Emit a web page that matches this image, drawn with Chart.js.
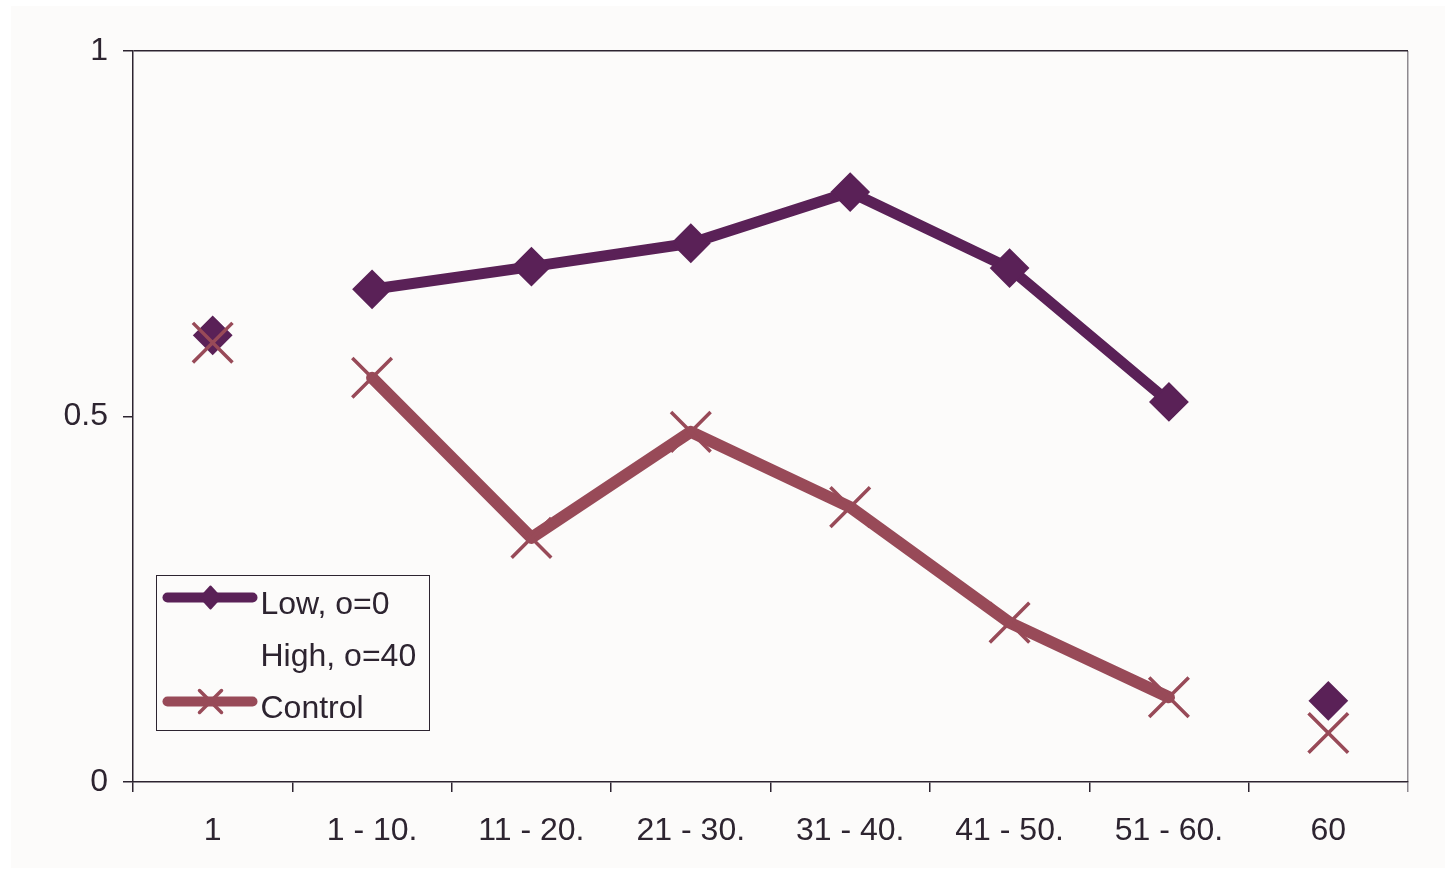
<!DOCTYPE html>
<html><head><meta charset="utf-8">
<script src="https://cdn.jsdelivr.net/npm/chart.js@4/dist/chart.umd.min.js"></script>
<style>html,body{margin:0;padding:0;background:#fff;} #wrap{width:1445px;height:869px;position:relative;}</style>
</head><body><div id="wrap"><canvas id="c" width="1445" height="869"></canvas></div>
<script>
// ---- data ----
const categories = ['1', '1 - 10.', '11 - 20.', '21 - 30.', '31 - 40.', '41 - 50.', '51 - 60.', '60'];
const lowValues = [0.611, 0.674, 0.705, 0.737, 0.807, 0.703, 0.520, 0.111];
const highValues = [null, null, null, null, null, null, null, null];
const controlValues = [0.601, 0.553, 0.334, 0.479, 0.376, 0.218, 0.116, 0.067];
const yTickValues = [0, 0.5, 1];
const yTickLabels = ['0', '0.5', '1'];
const seriesNames = ['Low, o=0', 'High, o=40', 'Control'];

// ---- styles ----
const LOW = '#5a2157', CTRL = '#984a58', TXT = '#2d2430', DARK = '#2d2430', GRAY = '#8e8a90', BG = '#fcfbfa';
const FONT = '"Liberation Sans", Arial, sans-serif';
const FS = 32;
const lastIdx = categories.length - 1;
const inner = (arr) => arr.map((v, i) => (i > 0 && i < lastIdx) ? v : null);
const ends = (arr) => arr.map((v, i) => (i === 0 || i === lastIdx) ? v : null);

const bgPlugin = {
  id: 'bg',
  beforeDraw(chart) {
    const ctx = chart.ctx;
    ctx.save();
    ctx.fillStyle = '#ffffff';
    ctx.fillRect(0, 0, chart.width, chart.height);
    ctx.fillStyle = BG;
    ctx.fillRect(11, 6, chart.width - 11, 862);
    ctx.restore();
  }
};

const legendPlugin = {
  id: 'customLegend',
  afterDatasetsDraw(chart) {
    const ctx = chart.ctx;
    const a = chart.chartArea;
    const x0 = a.left + 23.5, y0 = a.top + 524.5, w = 273, h = 155;
    ctx.save();
    ctx.fillStyle = BG;
    ctx.fillRect(x0, y0, w, h);
    ctx.strokeStyle = DARK;
    ctx.lineWidth = 1;
    ctx.strokeRect(x0, y0, w, h);
    const rows = [y0 + 22, y0 + 74, y0 + 126];
    const lx1 = x0 + 11, lx2 = x0 + 96, mx = x0 + 54;
    ctx.lineCap = 'round';
    ctx.lineJoin = 'round';
    // Low sample
    ctx.strokeStyle = LOW; ctx.fillStyle = LOW; ctx.lineWidth = 10;
    ctx.beginPath(); ctx.moveTo(lx1, rows[0]); ctx.lineTo(lx2, rows[0]); ctx.stroke();
    ctx.lineWidth = 2;
    ctx.beginPath();
    ctx.moveTo(mx - 10, rows[0]); ctx.lineTo(mx, rows[0] - 11); ctx.lineTo(mx + 10, rows[0]); ctx.lineTo(mx, rows[0] + 11); ctx.closePath();
    ctx.fill(); ctx.stroke();
    // Control sample
    ctx.strokeStyle = CTRL; ctx.lineWidth = 10;
    ctx.beginPath(); ctx.moveTo(lx1, rows[2]); ctx.lineTo(lx2, rows[2]); ctx.stroke();
    ctx.lineWidth = 3.5;
    const r = 11;
    ctx.beginPath();
    ctx.moveTo(mx - r, rows[2] - r); ctx.lineTo(mx + r, rows[2] + r);
    ctx.moveTo(mx + r, rows[2] - r); ctx.lineTo(mx - r, rows[2] + r);
    ctx.stroke();
    // texts
    ctx.fillStyle = TXT;
    ctx.font = FS + 'px ' + FONT;
    ctx.textBaseline = 'alphabetic';
    ctx.textAlign = 'left';
    ctx.fillText(seriesNames[0], x0 + 104, y0 + 38);
    ctx.fillText(seriesNames[1], x0 + 104, y0 + 90);
    ctx.fillText(seriesNames[2], x0 + 104, y0 + 142);
    ctx.restore();
  }
};

const lowLine = { pointStyle: 'rectRot', pointRadius: 18.5, pointHoverRadius: 18.5, pointBackgroundColor: LOW, pointBorderColor: LOW, pointBorderWidth: 2, borderColor: LOW, backgroundColor: LOW };
const ctrlLine = { pointStyle: 'crossRot', pointRadius: 28, pointHoverRadius: 28, pointBorderColor: CTRL, pointBackgroundColor: CTRL, pointBorderWidth: 3.5, borderColor: CTRL, backgroundColor: CTRL };

new Chart(document.getElementById('c'), {
  type: 'line',
  data: {
    labels: categories,
    datasets: [
      Object.assign({ label: seriesNames[2], data: inner(controlValues), borderWidth: 12, order: 0, borderCapStyle: 'round', borderJoinStyle: 'round', spanGaps: false }, ctrlLine),
      Object.assign({ label: seriesNames[2] + ' ends', data: ends(controlValues), showLine: false, order: 0 }, ctrlLine),
      { label: seriesNames[1], data: highValues, showLine: false, pointRadius: 0, order: 2 },
      Object.assign({ label: seriesNames[0], data: inner(lowValues), borderWidth: 11, order: 1, borderCapStyle: 'round', borderJoinStyle: 'round', spanGaps: false }, lowLine),
      Object.assign({ label: seriesNames[0] + ' ends', data: ends(lowValues), showLine: false, order: 1 }, lowLine)
    ]
  },
  options: {
    responsive: false,
    animation: false,
    events: [],
    layout: { padding: { left: 0, top: 51, right: 37, bottom: 0 } },
    plugins: { legend: { display: false }, tooltip: { enabled: false } },
    scales: {
      x: {
        offset: true,
        afterFit(s) { s.height = 87; },
        grid: {
          offset: true,
          drawOnChartArea: true,
          color: (c) => (c.index === undefined ? GRAY : 'transparent'),
          tickColor: (c) => (c.index === undefined ? GRAY : DARK),
          tickLength: 10,
          lineWidth: 1.5
        },
        border: { color: DARK, width: 1.5 },
        ticks: { color: TXT, font: { family: FONT, size: FS }, padding: 20, maxRotation: 0, autoSkip: false }
      },
      y: {
        min: 0, max: 1,
        afterFit(s) { s.width = 133; },
        afterBuildTicks(s) { s.ticks = yTickValues.map(v => ({ value: v })); },
        grid: {
          drawOnChartArea: true,
          color: (c) => (c.tick && c.tick.value === 1 ? DARK : 'transparent'),
          tickColor: DARK,
          tickLength: 10,
          lineWidth: 1.5
        },
        border: { color: DARK, width: 1.5 },
        ticks: {
          color: TXT, font: { family: FONT, size: FS }, padding: 15,
          callback: (v) => { const i = yTickValues.indexOf(v); return i >= 0 ? yTickLabels[i] : ''; }
        }
      }
    }
  },
  plugins: [bgPlugin, legendPlugin]
});
</script>
</body></html>
